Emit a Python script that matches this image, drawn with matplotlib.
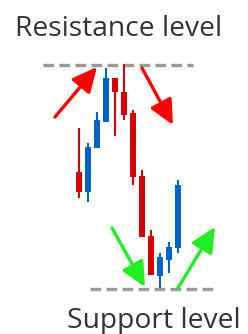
import matplotlib

matplotlib.use("Agg")
import matplotlib.pyplot as plt

# candle prices (higher value = higher on chart)
candle_open = [162, 142, 186, 212, 256, 242, 221, 158, 98, 58, 74, 86]
candle_close = [142, 187, 214, 256, 242, 219, 157, 97, 59, 77, 87, 149]
candle_high = [206, 191, 222, 266, 256, 270, 224, 164, 104, 81, 92, 154]
candle_low = [136, 132, 186, 212, 198, 214, 149, 97, 59, 46, 61, 81]

resistance_price = 269
support_price = 45
resistance_span = (-4.0, 12.7)
support_span = (1.2, 15.4)

# arrows as (tail, tip) in (candle index, price)
red_arrows = [((-2.67, 217), (2.0, 267)), ((7.0, 266), (10.44, 209))]
green_arrows = [((3.67, 106), (7.33, 47)), ((11.0, 46), (15.11, 107))]

UP_COLOR = "#0563c8"
DOWN_COLOR = "#d90000"
LINE_COLOR = "#9a9a9a"
TEXT_COLOR = "#333333"

fig = plt.figure(figsize=(2.48, 3.34), dpi=100)
ax = fig.add_axes([0, 0, 1, 1])
ax.set_xlim(-79 / 9, 169 / 9)
ax.set_ylim(0, 334)
ax.axis("off")

ax.hlines(resistance_price, *resistance_span, colors=LINE_COLOR, linewidth=2.4,
          linestyles=(0, (3.2, 1.6)), zorder=1)
ax.hlines(support_price, *support_span, colors=LINE_COLOR, linewidth=2.4,
          linestyles=(0, (3.2, 1.6)), zorder=1)

for i, (o, c, h, l) in enumerate(zip(candle_open, candle_close, candle_high, candle_low)):
    color = UP_COLOR if c > o else DOWN_COLOR
    ax.vlines(i, l, h, colors=color, linewidth=1.5, zorder=2)
    ax.bar(i, abs(c - o), bottom=min(o, c), width=0.72, color=color,
           edgecolor="none", zorder=3)

for arrows, color in ((red_arrows, "#ff0000"), (green_arrows, "#22ee22")):
    for tail, tip in arrows:
        ax.annotate(
            "", xy=tip, xytext=tail,
            arrowprops=dict(arrowstyle="-|>,head_length=1.5,head_width=0.72",
                            mutation_scale=10, lw=2.4, color=color,
                            shrinkA=0, shrinkB=0),
            zorder=4,
        )

fig.text(119 / 248, 1 - 36 / 334, "Resistance level", ha="center", va="baseline",
         fontsize=20.3, family="Open Sans", color=TEXT_COLOR)
fig.text(67 / 248, 1 - 328 / 334, "Support level", ha="left", va="baseline",
         fontsize=20.3, family="Open Sans", color=TEXT_COLOR)

fig.savefig("out.png", dpi=100)
